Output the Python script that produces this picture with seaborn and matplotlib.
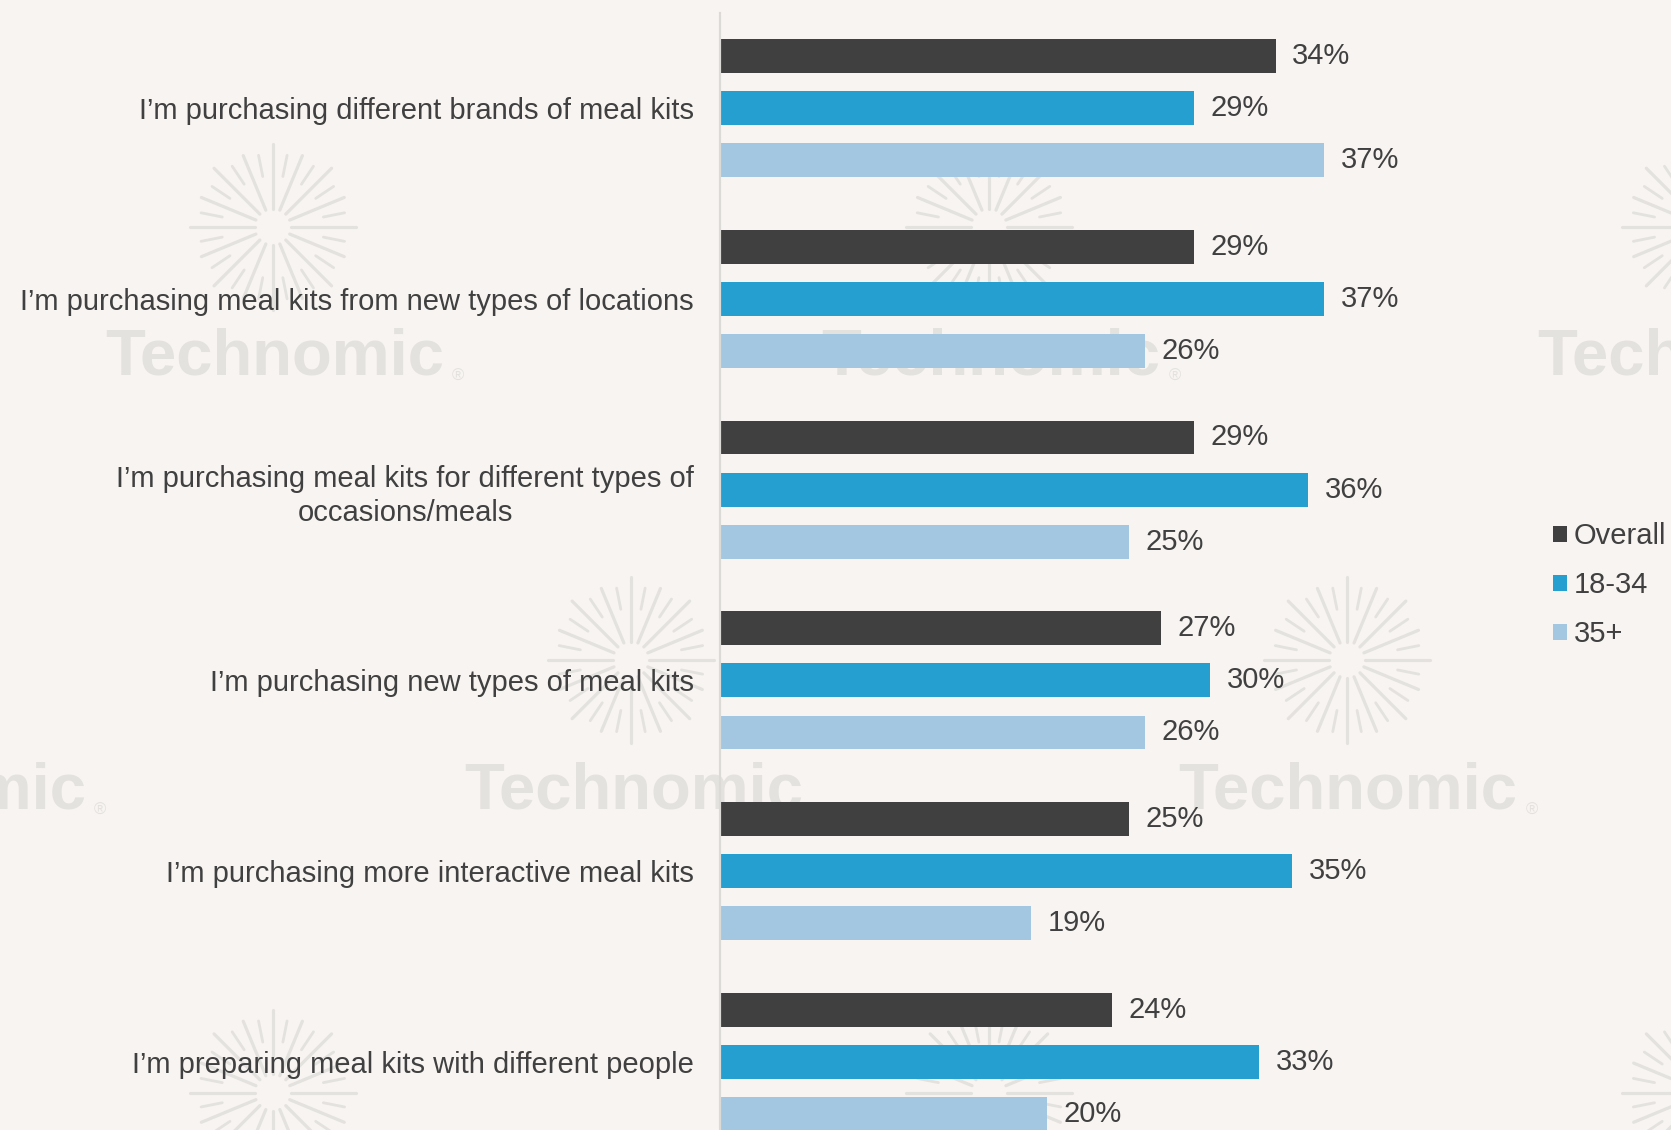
import numpy as np
import pandas as pd
import matplotlib
matplotlib.use("Agg")
import matplotlib.pyplot as plt
import seaborn as sns

categories = [
    "I’m purchasing different brands of meal kits",
    "I’m purchasing meal kits from new types of locations",
    "I’m purchasing meal kits for different types of\noccasions/meals",
    "I’m purchasing new types of meal kits",
    "I’m purchasing more interactive meal kits",
    "I’m preparing meal kits with different people",
]
series_names = ["Overall", "18-34", "35+"]
overall = [34, 29, 29, 27, 25, 24]
age_18_34 = [29, 37, 36, 30, 35, 33]
age_35_plus = [37, 26, 25, 26, 19, 20]

colors = ["#404040", "#259ED0", "#A3C7E1"]
bg = "#F7F4F1"
text_col = "#404040"
wm_col = "#E4E2DF"

df = pd.DataFrame({
    "category": categories * 3,
    "group": [series_names[0]] * 6 + [series_names[1]] * 6 + [series_names[2]] * 6,
    "value": overall + age_18_34 + age_35_plus,
})

sns.set_theme(style="white")
plt.rcParams["font.family"] = ["Liberation Sans", "DejaVu Sans"]

W, H = 1568.0, 1060.0  # reference display coords
fig = plt.figure(figsize=(16.71, 11.30), dpi=100, facecolor=bg)

# background watermark layer
bgax = fig.add_axes([0, 0, 1, 1], zorder=-5)
bgax.set_xlim(0, W)
bgax.set_ylim(H, 0)
bgax.axis("off")
bgax.set_facecolor(bg)

def sunburst(cx, cy, R=78):
    n = 32
    for k in range(n):
        a = 2 * np.pi * k / n
        if k % 2 == 0:
            inner = R * 0.22
            outer = R if k % 4 == 0 else R * 0.93
            lw = 2.3
        else:
            inner = R * 0.62
            outer = R * 0.88
            lw = 2.0
        bgax.plot([cx + inner * np.cos(a), cx + outer * np.cos(a)],
                  [cy + inner * np.sin(a), cy + outer * np.sin(a)],
                  color=wm_col, lw=lw, solid_capstyle="round", zorder=1)

for (cx, cy) in [(256, 213), (928, 213), (1600, 213),
                 (-80, 619), (592, 619), (1264, 619),
                 (256, 1025), (928, 1025), (1600, 1025)]:
    sunburst(cx, cy)

for (cx, cy) in [(258, 335), (930, 335), (1602, 335),
                 (-78, 742), (595, 742), (1265, 742)]:
    bgax.text(cx, cy, "Technomic", fontsize=47, fontweight="bold",
              color=wm_col, ha="center", va="center", zorder=2)
    bgax.text(cx + 172, cy + 18, "®", fontsize=12, color=wm_col,
              ha="center", va="center", zorder=2)

# main axes
left = 676 / W
width = 50 * 15.32 / W
top = 1 - 12 / H
bottom = 1 - (101 + 5.5 * 179) / H
ax = fig.add_axes([left, bottom, width, top - bottom])
ax.patch.set_alpha(0)

sns.barplot(data=df, y="category", x="value", hue="group",
            hue_order=series_names, palette=colors, orient="h",
            width=0.82, gap=0.35, linewidth=0, saturation=1, ax=ax)

ax.set_xlim(0, 50)
ax.set_ylim(5.5, -0.5)
ax.set_xlabel("")
ax.set_ylabel("")
ax.set_xticks([])
for s in ["top", "right", "bottom"]:
    ax.spines[s].set_visible(False)
ax.spines["left"].set_color("#DCDAD7")
ax.spines["left"].set_linewidth(1.6)
ax.tick_params(axis="y", length=0, pad=19, labelsize=21, labelcolor=text_col)
for lbl in ax.get_yticklabels():
    lbl.set_multialignment("center")
    lbl.set_linespacing(1.3)

for cont in ax.containers:
    ax.bar_label(cont, fmt="%.0f%%", padding=12, fontsize=21, color=text_col)

handles, labels = ax.get_legend_handles_labels()
if ax.get_legend() is not None:
    ax.get_legend().remove()
fig.legend(handles, labels, loc="center left",
           bbox_to_anchor=(1457 / W, 1 - 549 / H), frameon=False,
           fontsize=21, handlelength=0.5, handleheight=0.5,
           handletextpad=0.22, labelspacing=0.72, borderpad=0,
           borderaxespad=0, labelcolor=text_col)

fig.savefig("out.png", dpi=100, facecolor=bg)
